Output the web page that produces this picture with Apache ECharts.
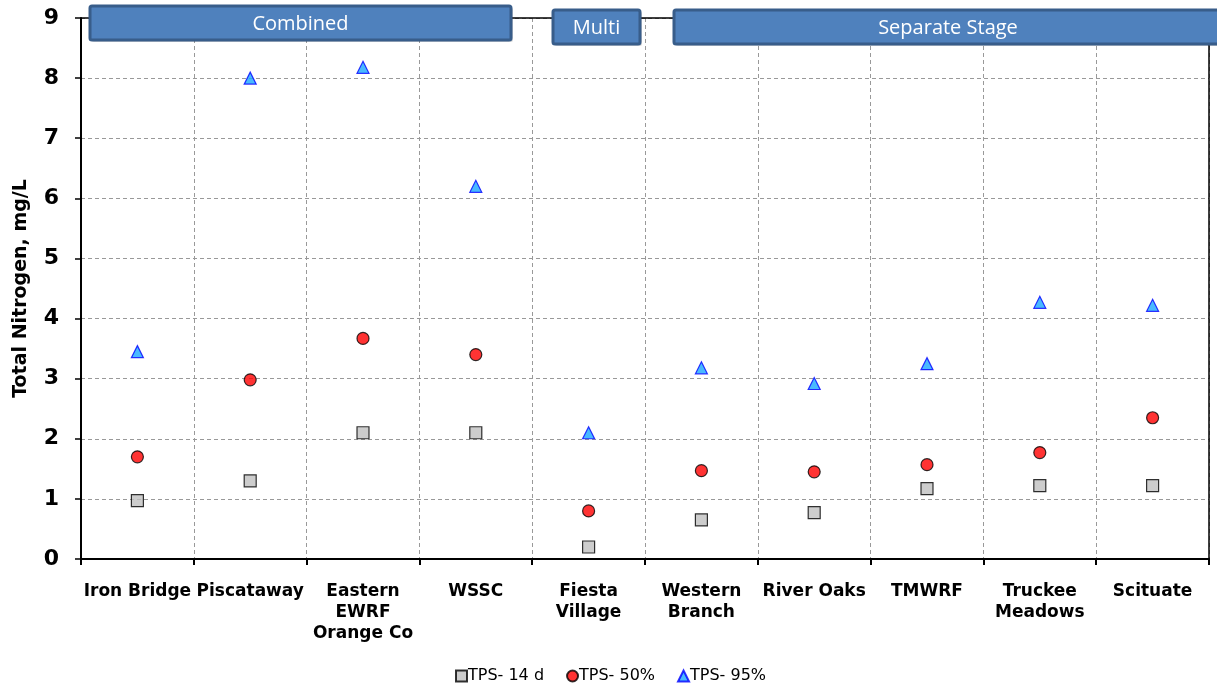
<!DOCTYPE html>
<html><head><meta charset="utf-8">
<script src="https://cdn.jsdelivr.net/npm/echarts@6/dist/echarts.min.js"></script>
<style>html,body{margin:0;padding:0;background:#fff}#c{width:1217px;height:692px}</style>
</head><body><div id="c"></div>
<script>
var categories = ['Iron Bridge','Piscataway','Eastern\nEWRF\nOrange Co','WSSC','Fiesta\nVillage','Western\nBranch','River Oaks','TMWRF','Truckee\nMeadows','Scituate'];
var tps14d = [0.97, 1.30, 2.10, 2.10, 0.20, 0.65, 0.77, 1.17, 1.22, 1.22];
var tps50 = [1.70, 2.98, 3.67, 3.40, 0.80, 1.47, 1.45, 1.57, 1.77, 2.35];
var tps95 = [3.45, 8.00, 8.18, 6.20, 2.10, 3.18, 2.92, 3.25, 4.27, 4.22];
var yTicks = [0,1,2,3,4,5,6,7,8,9];
var groupLabels = ['Combined','Multi','Separate Stage'];

var chart = echarts.init(document.getElementById('c'));
var L = 81, R = 1209, T = 18, B = 559;
var labelFont = '"DejaVu Sans", sans-serif';
function banner(x1, x2, y1, y2, text){
  return {
    type: 'group', children: [
      {type:'rect', shape:{x:x1+2,y:y1+2,width:x2-x1,height:y2-y1,r:2}, style:{fill:'rgba(0,0,0,0.15)'}, z:10},
      {type:'rect', shape:{x:x1,y:y1,width:x2-x1,height:y2-y1,r:2}, style:{fill:'#4F81BD',stroke:'#385D8A',lineWidth:3}, z:11},
      {type:'text', x:(x1+x2)/2, y:(y1+y2)/2 + 1, style:{text:text, fill:'#fff', font:'20px "Open Sans", sans-serif', align:'center', verticalAlign:'middle'}, z:12}
    ]
  };
}
chart.setOption({
  animation: false,
  grid: {left: L, right: 1217 - R, top: T, bottom: 692 - B},
  legend: {
    bottom: 3, left: 450, itemWidth: 11, itemHeight: 11, itemGap: 22,
    textStyle: {fontFamily: labelFont, fontSize: 16, color: '#000', padding:[0,0,0,-4]},
    data: [
      {name:'TPS- 14 d', icon:'rect'},
      {name:'TPS- 50%', icon:'circle'},
      {name:'TPS- 95%', icon:'triangle'}
    ]
  },
  xAxis: {
    type: 'category', data: categories, boundaryGap: true,
    axisLine: {lineStyle: {color: '#000', width: 2}},
    axisTick: {show: true, length: 6, lineStyle: {color:'#000', width: 2}},
    axisLabel: {interval: 0, margin: 22, fontFamily: labelFont, fontWeight: 'bold', fontSize: 17, color: '#000', lineHeight: 21},
    splitLine: {show: true, interval: 0, lineStyle: {color: '#999', type: [4,3], width: 1}}
  },
  yAxis: {
    type: 'value', min: 0, max: 9, interval: 1,
    name: 'Total Nitrogen, mg/L', nameLocation: 'middle', nameGap: 50,
    nameTextStyle: {fontFamily: labelFont, fontWeight: 'bold', fontSize: 19, color: '#000'},
    axisLine: {show: true, lineStyle: {color: '#000', width: 2}},
    axisTick: {show: true, length: 6, lineStyle: {color:'#000', width: 1.5}},
    axisLabel: {margin: 22, fontFamily: labelFont, fontWeight: 'bold', fontSize: 22, color: '#000',
      formatter: function(v){ return yTicks.indexOf(v) >= 0 ? String(v) : ''; }},
    splitLine: {show: true, lineStyle: {color: '#999', type: [4,3], width: 1}}
  },
  series: [
    {name:'TPS- 14 d', type:'scatter', data: tps14d, symbol:'rect', symbolSize: 12,
      itemStyle:{color:'#C0C0C0', borderColor:'#000', borderWidth:1.2}, z: 3},
    {name:'TPS- 50%', type:'scatter', data: tps50, symbol:'circle', symbolSize: 12,
      itemStyle:{color:'#FF0000', borderColor:'#000', borderWidth:1.2}, z: 4},
    {name:'TPS- 95%', type:'scatter', data: tps95, symbol:'triangle', symbolSize: 12,
      itemStyle:{color:'#1CA8FF', borderColor:'#0000FF', borderWidth:1.2}, z: 5}
  ],
  graphic: [
    {type:'line', shape:{x1:L, y1:T, x2:R, y2:T}, style:{stroke:'#000', lineWidth:1.5}, z:5},
    {type:'line', shape:{x1:R, y1:T, x2:R, y2:B+6}, style:{stroke:'#000', lineWidth:1.5}, z:5},
    banner(90, 511, 6, 40, groupLabels[0]),
    banner(553, 640, 10, 44, groupLabels[1]),
    banner(674, 1222, 10, 44, groupLabels[2])
  ]
});
</script></body></html>
